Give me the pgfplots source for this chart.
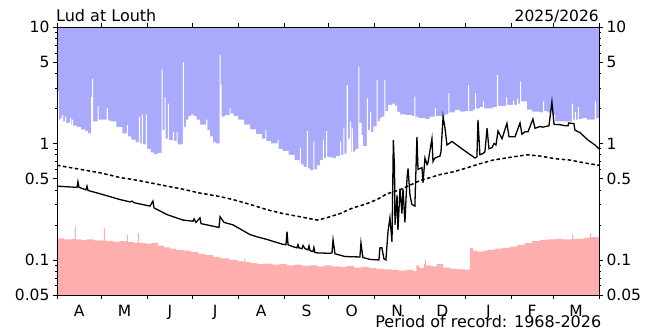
\documentclass[border=0pt]{standalone}
\usepackage{pgfplots}
\pgfplotsset{compat=1.18}
\usepackage{fontspec}
\setmainfont{DejaVu Sans}
\definecolor{blueC}{RGB}{170,170,252}
\definecolor{pinkC}{RGB}{255,174,174}
\newcommand{\lblfont}{\fontsize{15.5}{16}\selectfont}
\newcommand{\ttlfont}{\fontsize{16}{17}\selectfont}
\begin{document}
\begin{tikzpicture}
\path[use as bounding box] (-57pt,-39pt) rectangle (592pt,295pt);
\begin{axis}[
  at={(0,0)}, anchor=south west, scale only axis,
  width=542pt, height=268pt,
  xmin=0, xmax=365, ymode=log, ymin=0.05, ymax=10,
  clip=false,
  ytick={0.05,0.1,0.5,1,5,10},
  yticklabels={0.05,0.1,0.5,1,5,10},
  minor ytick={0.06,0.07,0.08,0.09,0.2,0.3,0.4,0.6,0.7,0.8,0.9,2,3,4,6,7,8,9},
  tick align=outside, major tick length=4pt, minor tick length=2pt,
  tick style={black, line width=0.6pt},
  tick label style={font=\lblfont},
  axis line style={line width=0.8pt},
  axis background/.style={fill=blueC},
  axis on top,
  ytick pos=left,
  xtick={0,30,61,91,122,153,183,214,244,275,306,334,365},
  xticklabels={},
  extra x ticks={15,45.5,76,106.5,137.5,168,198.5,229,259.5,290.5,320,349.5},
  extra x tick labels={A,M,J,J,A,S,O,N,D,J,F,M},
  extra x tick style={major tick length=0pt, tick label style={anchor=base, yshift=-22pt}},
]
% maximum flow (white below)
\addplot[const plot, fill=white, draw=none] coordinates {
(0,2.8) (1.3,1.6) (2.5,1.66) (3.4,1.75) (4.1,1.55) (5.4,1.7) (6.1,1.5) (8.8,1.65) (9.5,1.45) (10.1,1.6) (10.8,1.42)
(13.5,1.38) (16,1.32) (19,1.28) (21,1.22) (22.9,2.5) (23.6,3.6) (24.3,1.55) (27.3,2.1) (28,1.6) (31,1.6)
(33.5,2.0) (34.2,1.58) (36,1.55) (40,1.38) (44,1.22) (47.1,1.44) (47.8,1.15) (50,1.08) (53,1.02)
(55.2,1.7) (55.9,1.0) (57.1,1.78) (57.8,0.98) (59.8,1.77) (60.5,0.9) (63,0.84) (65,0.81) (68,0.83)
(70.5,4.4) (71.2,1.3) (72.5,2.5) (73.2,1.1) (74.7,2.2) (75.4,1.07) (78.1,1.26) (78.8,1.05) (80.6,1.26) (81.3,0.98)
(84.7,5.0) (85.4,1.39) (87,1.6) (88.5,1.72) (90.3,1.78) (92,1.72) (94,1.6) (96.3,1.45) (100.5,1.6) (101.2,1.3)
(103,1.15) (105,1.02) (107,1.0) (109.5,5.75) (110.2,3.2) (110.9,1.7) (113,1.75) (116.3,2.0) (117,1.8) (119,1.72)
(122,1.6) (126,1.45) (130,1.32) (134,1.2) (138,1.1) (140.3,1.3) (141,1.05) (144,1.0) (148.5,1.07) (149.2,0.9)
(152,0.86) (156,0.8) (160,0.72) (163.2,0.68) (163.6,0.92) (164.3,0.66) (166,0.63) (168.2,1.28) (168.9,0.61)
(170.5,0.59) (172.6,1.04) (173.3,0.6) (175,0.65) (177,0.72) (179.1,1.08) (179.8,0.75) (181.2,1.28) (181.9,0.77)
(183,0.76) (186,0.75) (188,0.78) (190.6,1.04) (191.3,0.8) (192.8,1.35) (193.5,0.82) (195.1,3.17) (195.8,1.1)
(197.3,1.54) (198.0,0.85) (198.5,1.35) (199.2,0.85) (201,0.9) (202.9,4.56) (203.6,1.5) (205.2,1.18) (206,0.95)
(208.6,2.44) (209.3,1.3) (210.8,1.87) (211.5,1.25) (213,1.4) (215.3,3.5) (216,1.55) (217.5,1.65) (218.5,1.7)
(220.4,3.5) (221.1,1.9) (223,2.15) (226,2.2) (227.6,2.1) (229,1.87) (231,1.78) (235,1.75) (239,1.72)
(240.6,2.52) (241.3,1.7) (243,1.65) (248,1.62) (251,1.7) (254.5,2.0) (255.2,1.72) (259,1.7) (261,1.78)
(263.5,2.7) (264.2,1.85) (268,1.94) (271.4,1.88) (274.7,1.9) (276.8,3.17) (277.5,1.9) (280,1.95) (281.5,2.7)
(282.2,2.0) (284.8,2.05) (286.9,2.3) (287.6,2.0) (290,2.0) (293.6,2.05) (296.3,3.87) (297,2.1) (300.3,2.1)
(302.5,2.5) (303.2,2.15) (305,2.15) (307.1,2.35) (307.8,2.15) (309.8,2.45) (310.5,2.2) (311.8,3.4) (312.5,2.3)
(314,2.3) (316.5,1.95) (320,1.88) (325,1.85) (327.3,2.3) (328,1.9) (330,1.85) (333,2.28) (333.7,1.75)
(335.4,1.55) (340,1.55) (345,1.54) (346.8,2.2) (347.5,1.6) (348.8,1.87) (349.5,1.6) (350.8,2.05) (351.5,1.62)
(353.5,1.65) (356.9,1.6) (360,1.6) (362.3,2.3) (363,1.65) (365,1.65)
} -- (axis cs:365,0.05) -- (axis cs:0,0.05) -- cycle;
% minimum flow (pink below)
\addplot[const plot, fill=pinkC, draw=none] coordinates {
(0,0.153) (5,0.15) (10,0.152) (12,0.193) (12.7,0.15) (16,0.148) (20,0.15) (25,0.147) (31.6,0.187) (32.3,0.146)
(38,0.143) (42,0.145) (47.1,0.164) (47.8,0.142) (52,0.14) (54.5,0.17) (55.2,0.14) (60,0.138) (64,0.14)
(68,0.133) (72,0.128) (76,0.125) (80,0.122) (85,0.12) (90,0.117) (95,0.113) (100,0.11) (105,0.106) (110,0.103)
(116,0.1) (122,0.097) (126,0.102) (126.7,0.096) (130,0.094) (135,0.092) (140,0.093) (145,0.091) (150,0.092)
(155,0.09) (160,0.091) (165,0.089) (170,0.09) (175,0.088) (180,0.09) (185,0.088) (190,0.087) (195,0.089)
(200,0.086) (205,0.087) (210,0.085) (215,0.084) (220,0.083) (225,0.082) (230,0.081) (235,0.082) (240,0.08)
(242,0.09) (244,0.085) (247,0.092) (247.7,0.1) (248.4,0.09) (252,0.088) (256,0.092) (260,0.086) (265,0.084)
(270,0.083) (275,0.082) (278.1,0.127) (280,0.12) (283,0.118) (287,0.12) (290,0.122) (295,0.125) (300,0.127)
(305,0.13) (310,0.135) (315,0.14) (320,0.145) (325,0.148) (330,0.15) (335,0.152) (340,0.15) (346.8,0.165)
(347.5,0.152) (355,0.155) (358.9,0.17) (359.6,0.157) (365,0.158)
} -- (axis cs:365,0.05) -- (axis cs:0,0.05) -- cycle;
% median
\addplot[black, line width=1.5pt, dash pattern=on 3.5pt off 2.5pt] coordinates {
(0,0.65) (15.5,0.6) (29,0.56) (42.4,0.51) (51.2,0.49) (62.6,0.46) (74.1,0.43) (82.8,0.41) (96.3,0.375)
(109.8,0.35) (118.5,0.33) (130,0.3) (141.4,0.27) (152.2,0.25) (163.6,0.235) (175.1,0.22) (180.5,0.228)
(190.6,0.25) (199.3,0.28) (207.4,0.3) (215.5,0.33) (222.2,0.37) (231,0.4) (244.4,0.48) (257.9,0.54)
(266.7,0.57) (274.7,0.61) (284.8,0.67) (293.6,0.72) (305,0.76) (316.5,0.8) (325.3,0.78) (335.4,0.74)
(345.5,0.72) (355.6,0.68) (365,0.65)
};
% current year
\addplot[black, line width=1.3pt] coordinates {
(0,0.43) (13.5,0.42) (14.1,0.47) (14.8,0.42) (19.5,0.40) (20.2,0.43) (20.9,0.395) (29,0.37) (42.4,0.33)
(49.2,0.315) (50.5,0.32) (51.9,0.31) (62.6,0.29) (64.6,0.32) (65.3,0.28) (74.1,0.245) (84.8,0.22)
(91.6,0.215) (92.3,0.225) (93.6,0.21) (96.3,0.23) (97,0.205) (105,0.195) (109.1,0.19) (109.8,0.235)
(112.5,0.21) (118.5,0.2) (130,0.165) (134.7,0.158) (141.4,0.15) (152.2,0.136) (154.2,0.135) (154.9,0.175)
(155.6,0.135) (158.9,0.13) (161.6,0.127) (162.3,0.135) (163,0.127) (165,0.125) (165.7,0.133) (167,0.125)
(169,0.122) (169.7,0.132) (170.4,0.12) (172.4,0.118) (173,0.128) (173.7,0.116) (175.1,0.115) (183.8,0.114)
(185.2,0.115) (185.9,0.149) (187.2,0.113) (193.9,0.107) (204,0.106) (204.7,0.14) (206,0.105) (210.8,0.101)
(216.8,0.1) (217.5,0.127) (218.8,0.127) (220.2,0.102) (221.5,0.1) (222.9,0.175) (224.2,0.23) (225.6,0.143)
(226.5,1.07) (227.3,0.6) (227.6,0.2) (229,0.36) (229.6,0.18) (231,0.41) (232.3,0.25) (233,0.41) (234.3,0.21)
(235.7,0.5) (236.4,0.61) (237.7,0.36) (239,0.3) (241,0.29) (242.4,1.14) (243.1,0.6) (245.8,0.62) (246.5,0.46)
(247.8,0.75) (249.2,0.66) (249.8,0.68) (252.5,1.1) (253.2,0.7) (254.5,0.75) (257.9,0.78) (258.6,0.85)
(260,1.7) (261.3,1.35) (262.6,0.97) (266,1.04) (272.7,0.9) (281.5,0.75) (282.8,0.77) (283.5,1.59) (284.8,0.8)
(286.9,0.82) (288.2,0.85) (289.6,1.35) (290.9,0.9) (292.9,0.92) (294.3,1.0) (295.6,0.97) (297,1.28)
(299.7,1.1) (303,1.49) (304.4,1.14) (308.4,1.14) (311.8,1.5) (313.1,1.2) (315.2,1.26) (317.2,1.26)
(320.5,1.62) (321.9,1.35) (325.3,1.4) (327.3,1.38) (329.3,1.4) (331.3,1.42) (333.3,2.28) (334.7,1.46)
(338.7,1.45) (342.1,1.42) (344.2,1.42) (344.5,1.5) (348.1,1.48) (348.8,1.3) (352.2,1.24) (357.6,1.07)
(362.3,0.97) (365,0.9)
};
\node[anchor=base west, inner sep=0pt, xshift=-1pt, yshift=5.5pt, font=\ttlfont] at (rel axis cs:0,1) {Lud at Louth};
\node[anchor=base east, inner sep=0pt, yshift=5.5pt, font=\lblfont] at (rel axis cs:1,1) {2025/2026};
\node[anchor=base east, inner sep=0pt, xshift=2.5pt, yshift=-32.5pt, font=\ttlfont] at (rel axis cs:1,0) {Period of record: 1968-2026};
\end{axis}
\begin{axis}[
  at={(0,0)}, anchor=south west, scale only axis,
  width=542pt, height=268pt,
  xmin=0, xmax=365, ymode=log, ymin=0.05, ymax=10,
  ytick={0.05,0.1,0.5,1,5,10},
  yticklabels={0.05,0.1,0.5,1,5,10},
  minor ytick={0.06,0.07,0.08,0.09,0.2,0.3,0.4,0.6,0.7,0.8,0.9,2,3,4,6,7,8,9},
  tick align=outside, major tick length=4pt, minor tick length=2pt,
  tick style={black, line width=0.6pt},
  tick label style={font=\lblfont},
  axis line style={line width=0.8pt},
  axis y line*=right,
  axis x line=none,
  yticklabel pos=right,
]
\addplot[draw=none] coordinates {(0,1) (365,1)};
\end{axis}
\end{tikzpicture}
\end{document}
